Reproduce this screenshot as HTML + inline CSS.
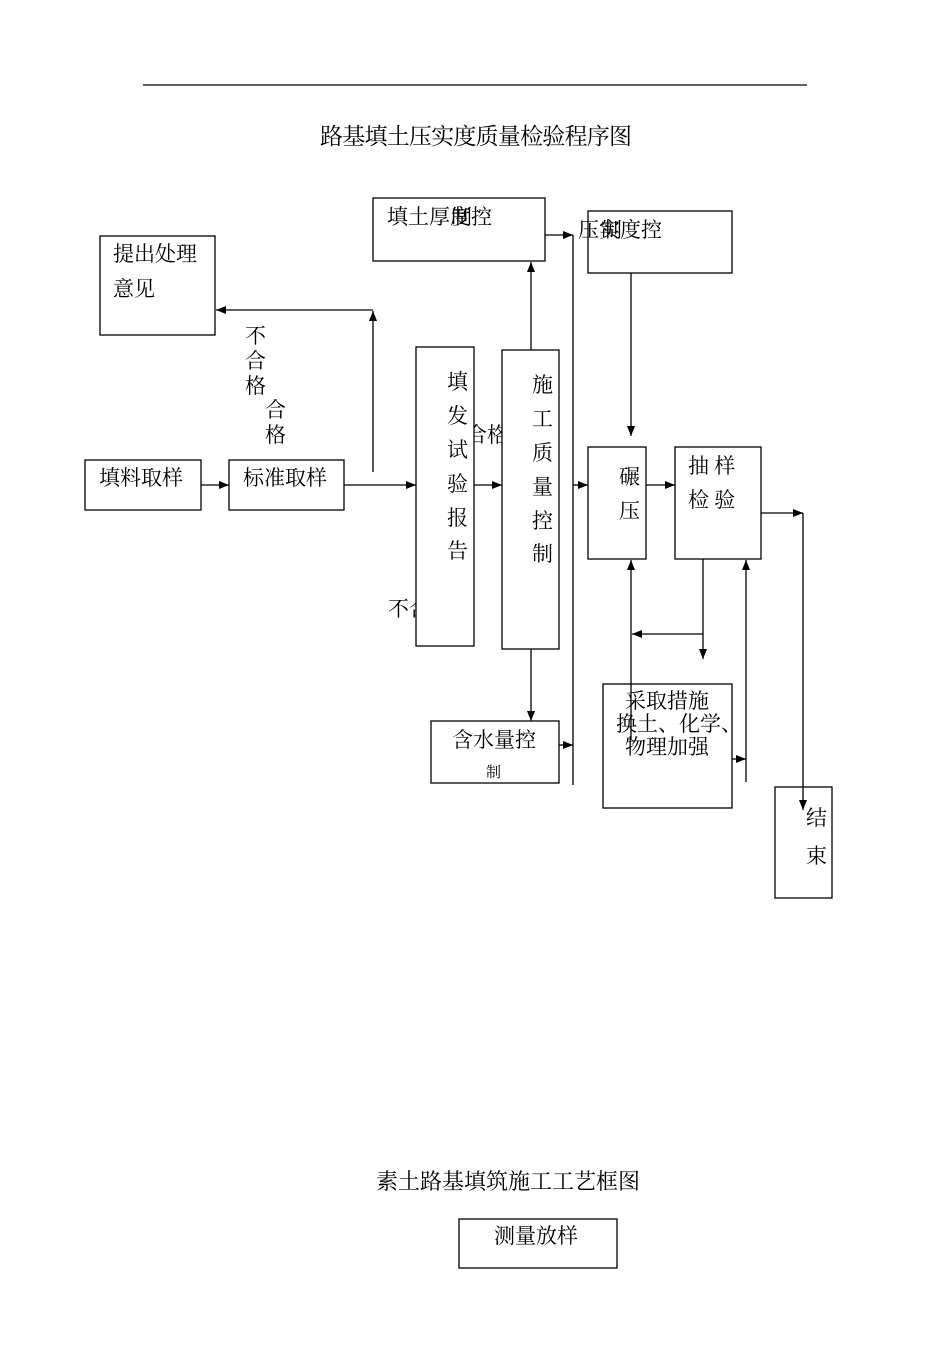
<!DOCTYPE html>
<html><head><meta charset="utf-8"><style>
body{margin:0;background:#fff}
svg text{font-family:"Liberation Serif","Noto Serif CJK SC","Noto Sans CJK SC",serif;fill:#000}
</style></head><body>
<svg width="950" height="1344" viewBox="0 0 950 1344" xmlns="http://www.w3.org/2000/svg">
<defs><marker id="a" markerWidth="10" markerHeight="8" refX="10" refY="4" orient="auto" markerUnits="userSpaceOnUse"><path d="M0,0L10,4L0,8z" fill="#000"/></marker></defs>
<g stroke="#000" stroke-width="1.3" fill="none">
<line x1="143" y1="85" x2="807" y2="85"/>
<rect x="373" y="198" width="172" height="63"/>
<rect x="588" y="211" width="144" height="62"/>
<rect x="100" y="236" width="115" height="99"/>
<rect x="85" y="460" width="116" height="50"/>
<rect x="229" y="460" width="115" height="50"/>
<rect x="588" y="447" width="58" height="112"/>
<rect x="675" y="447" width="86" height="112"/>
<rect x="775" y="787" width="57" height="111"/>
<rect x="459" y="1219" width="158" height="49"/>
<line x1="373" y1="472" x2="373" y2="311" marker-end="url(#a)"/>
<line x1="373" y1="310" x2="216" y2="310" marker-end="url(#a)"/>
<line x1="201" y1="485" x2="229" y2="485" marker-end="url(#a)"/>
<line x1="344" y1="485" x2="416" y2="485" marker-end="url(#a)"/>
<line x1="474" y1="485" x2="502" y2="485" marker-end="url(#a)"/>
<line x1="531" y1="350" x2="531" y2="262" marker-end="url(#a)"/>
<line x1="531" y1="635" x2="531" y2="721" marker-end="url(#a)"/>
<line x1="573" y1="235" x2="573" y2="785"/>
<line x1="545" y1="235" x2="573" y2="235" marker-end="url(#a)"/>
<line x1="559" y1="745" x2="573" y2="745" marker-end="url(#a)"/>
<line x1="573" y1="485" x2="588" y2="485" marker-end="url(#a)"/>
<line x1="646" y1="485" x2="675" y2="485" marker-end="url(#a)"/>
<line x1="631" y1="273" x2="631" y2="436" marker-end="url(#a)"/>
<line x1="761" y1="513" x2="803" y2="513" marker-end="url(#a)"/>
<line x1="803" y1="513" x2="803" y2="810" marker-end="url(#a)"/>
<line x1="703" y1="559" x2="703" y2="659" marker-end="url(#a)"/>
<line x1="703" y1="634" x2="632" y2="634" marker-end="url(#a)"/>
<line x1="631" y1="685" x2="631" y2="560" marker-end="url(#a)"/>
<line x1="746" y1="782" x2="746" y2="560" marker-end="url(#a)"/>
<line x1="732" y1="759" x2="746" y2="759" marker-end="url(#a)"/>
</g>
<g font-size="21">
<text x="320" y="144" font-size="23" textLength="312">路基填土压实度质量检验程序图</text>
<text x="387" y="224">填土厚度控</text>
<text x="451" y="224">制</text>
<text x="578" y="237">压实度控</text>
<text x="601" y="237">制</text>
<text x="113" y="261">提出处理</text>
<text x="113" y="296">意见</text>
<text x="245" y="343">不</text>
<text x="245" y="368">合</text>
<text x="245" y="393">格</text>
<text x="265" y="417">合</text>
<text x="265" y="442">格</text>
<text x="99" y="485">填料取样</text>
<text x="243" y="485">标准取样</text>
<text x="466" y="442">合格</text>
<text x="388" y="616">不合</text>
</g>
<rect x="416" y="347" width="58" height="299" fill="#fff" stroke="#000" stroke-width="1.3"/>
<rect x="502" y="350" width="57" height="299" fill="#fff" stroke="#000" stroke-width="1.3"/>
<rect x="431" y="721" width="128" height="62" fill="#fff" stroke="#000" stroke-width="1.3"/>
<rect x="603" y="684" width="129" height="124" fill="#fff" stroke="#000" stroke-width="1.3"/>
<line x1="631" y1="684" x2="631" y2="740" stroke="#000" stroke-width="1.3"/>
<g font-size="21">
<text x="447" y="389">填</text><text x="447" y="423">发</text><text x="447" y="457">试</text>
<text x="447" y="491">验</text><text x="447" y="525">报</text><text x="447" y="558">告</text>
<text x="532" y="392">施</text><text x="532" y="426">工</text><text x="532" y="460">质</text>
<text x="532" y="494">量</text><text x="532" y="528">控</text><text x="532" y="561">制</text>
<text x="452" y="747">含水量控</text>
<text x="486" y="777" font-size="15">制</text>
<text x="619" y="484">碾</text><text x="619" y="518">压</text>
<text x="688" y="473">抽 样</text><text x="688" y="507">检 验</text>
<text x="806" y="825">结</text><text x="806" y="863">束</text>
<text x="625" y="708">采取措施</text>
<text x="616" y="731">换土、化学、</text>
<text x="625" y="754">物理加强</text>
<text x="376" y="1189" font-size="22">素土路基填筑施工工艺框图</text>
<text x="494" y="1243">测量放样</text>
</g>
</svg>
</body></html>
